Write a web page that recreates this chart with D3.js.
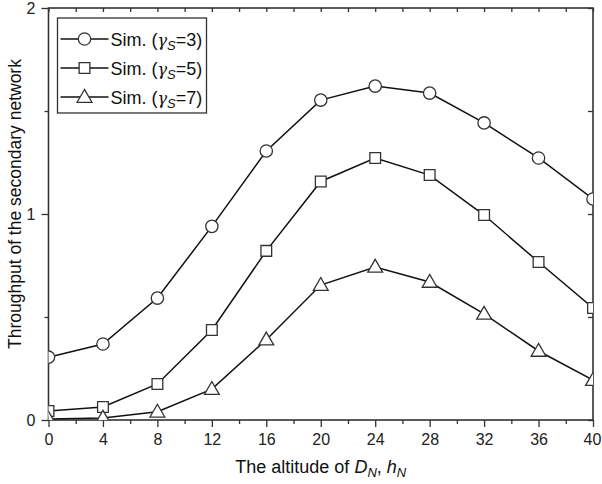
<!DOCTYPE html>
<html>
<head>
<meta charset="utf-8">
<script src="https://cdn.jsdelivr.net/npm/d3@7"></script>
<style>
  body { margin: 0; background: #fff; }
  svg text { font-family: "Liberation Sans", Arial, sans-serif; }
</style>
</head>
<body>
<div id="chart"></div>
<script>
// Data
var altitudes = [0, 4, 8, 12, 16, 20, 24, 28, 32, 36, 40];
var gamma3 = [0.305, 0.369, 0.592, 0.940, 1.306, 1.553, 1.621, 1.587, 1.442, 1.272, 1.073];
var gamma5 = [0.044, 0.063, 0.175, 0.437, 0.821, 1.158, 1.272, 1.189, 0.995, 0.767, 0.544];
var gamma7 = [0.005, 0.010, 0.040, 0.150, 0.390, 0.655, 0.743, 0.670, 0.515, 0.335, 0.194];
var seriesNames = ["3", "5", "7"];
var xTicks = [0, 4, 8, 12, 16, 20, 24, 28, 32, 36, 40];
var yTicks = [0, 1, 2];

var W = 602, H = 484;
var margin = {top: 8, right: 9, bottom: 64, left: 48.5};
var width = W - margin.left - margin.right,
    height = H - margin.top - margin.bottom;

var x = d3.scaleLinear().domain([0, 40]).range([0, width]);
var y = d3.scaleLinear().domain([0, 2]).range([height, 0]);

var svg = d3.select("#chart").append("svg")
    .attr("width", W).attr("height", H);

var g = svg.append("g")
    .attr("transform", "translate(" + margin.left + "," + margin.top + ")");

g.append("clipPath").attr("id", "clip")
  .append("rect").attr("width", width).attr("height", height);

var axisColor = "#333";

// Minor ticks
var xMinor = d3.range(2, 40, 4);
var yMinor = [0.5, 1.5];

function styleAxis(sel) {
  sel.select(".domain").remove();
  sel.selectAll("line").attr("stroke", axisColor).attr("stroke-width", 1.3);
  sel.selectAll("text").attr("fill", "#222").style("font-size", "16px");
}

// Bottom axis
g.append("g").attr("transform", "translate(0," + height + ")")
  .call(d3.axisBottom(x).tickValues(xTicks).tickSize(7).tickPadding(7))
  .call(styleAxis)
  .selectAll("text").filter(function(d) { return d === 40; }).attr("dx", -1);
g.append("g").attr("transform", "translate(0," + height + ")")
  .call(d3.axisBottom(x).tickValues(xMinor).tickSize(4).tickFormat(""))
  .call(styleAxis);
// Top axis (inward)
g.append("g")
  .call(d3.axisBottom(x).tickValues(xTicks.concat(xMinor)).tickSize(4).tickFormat(""))
  .call(styleAxis);
// Left axis
g.append("g")
  .call(d3.axisLeft(y).tickValues(yTicks).tickSize(7).tickPadding(6).tickFormat(d3.format("d")))
  .call(styleAxis);
g.append("g")
  .call(d3.axisLeft(y).tickValues(yMinor).tickSize(4).tickFormat(""))
  .call(styleAxis);
// Right axis (inward)
g.append("g").attr("transform", "translate(" + width + ",0)")
  .call(d3.axisLeft(y).tickValues(yTicks.concat(yMinor)).tickSize(5).tickFormat(""))
  .call(styleAxis);

// Frame
g.append("rect")
  .attr("width", width).attr("height", height)
  .attr("fill", "none").attr("stroke", axisColor).attr("stroke-width", 1.6);

// Series
var series = [
  {name: seriesNames[0], values: gamma3, shape: "circle"},
  {name: seriesNames[1], values: gamma5, shape: "square"},
  {name: seriesNames[2], values: gamma7, shape: "triangle"}
];

var symbols = {
  circle: d3.symbol().type(d3.symbolCircle).size(120),
  square: d3.symbol().type(d3.symbolSquare).size(115),
  triangle: d3.symbol().type(d3.symbolTriangle).size(95)
};

var line = d3.line()
  .x(function(d, i) { return x(altitudes[i]); })
  .y(function(d) { return y(d); });

var plot = g.append("g").attr("clip-path", "url(#clip)");

series.forEach(function(s) {
  plot.append("path")
    .datum(s.values)
    .attr("fill", "none")
    .attr("stroke", "#111")
    .attr("stroke-width", 1.5)
    .attr("d", line);
  plot.selectAll(null)
    .data(s.values)
    .enter().append("path")
    .attr("d", symbols[s.shape])
    .attr("transform", function(d, i) {
      var dy = s.shape === "triangle" ? 1 : 0;
      return "translate(" + x(altitudes[i]) + "," + (y(d) + dy) + ")";
    })
    .attr("fill", "#fff")
    .attr("stroke", "#333")
    .attr("stroke-width", 1.3);
});

// Legend
var legend = g.append("g").attr("transform", "translate(9,10)");
legend.append("rect")
  .attr("width", 149).attr("height", 95)
  .attr("fill", "#fff").attr("stroke", "#333").attr("stroke-width", 1.3);

series.forEach(function(s, i) {
  var row = legend.append("g").attr("transform", "translate(0," + (21 + i * 29) + ")");
  row.append("line")
    .attr("x1", 3).attr("x2", 51)
    .attr("stroke", "#111").attr("stroke-width", 1.5);
  row.append("path")
    .attr("d", symbols[s.shape])
    .attr("transform", "translate(27," + (s.shape === "triangle" ? 1 : 0) + ")")
    .attr("fill", "#fff").attr("stroke", "#333").attr("stroke-width", 1.3);
  var t = row.append("text")
    .attr("x", 53).attr("y", 6.5)
    .style("font-size", "18px").attr("fill", "#111");
  t.append("tspan").text("Sim. (");
  t.append("tspan").style("font-family", "'DejaVu Serif', serif").style("font-style", "italic")
    .style("font-size", "16px").text("\u03b3");
  t.append("tspan").attr("dy", 4).style("font-size", "13px").style("font-style", "italic").text("S");
  t.append("tspan").attr("dy", -4).text("=" + s.name + ")");
});

// Axis titles
var xt = svg.append("text")
  .attr("x", margin.left + width / 2).attr("y", 473)
  .attr("text-anchor", "middle")
  .style("font-size", "18px").attr("fill", "#111");
xt.append("tspan").text("The altitude of ");
xt.append("tspan").style("font-style", "italic").text("D");
xt.append("tspan").attr("dy", 4).style("font-size", "13px").style("font-style", "italic").text("N");
xt.append("tspan").attr("dy", -4).text(", ");
xt.append("tspan").style("font-style", "italic").text("h");
xt.append("tspan").attr("dy", 4).style("font-size", "13px").style("font-style", "italic").text("N");

svg.append("text")
  .attr("transform", "translate(21,204) rotate(-90)")
  .attr("text-anchor", "middle")
  .style("font-size", "17.5px").attr("fill", "#111")
  .text("Throughput of the secondary network");
</script>
</body>
</html>
